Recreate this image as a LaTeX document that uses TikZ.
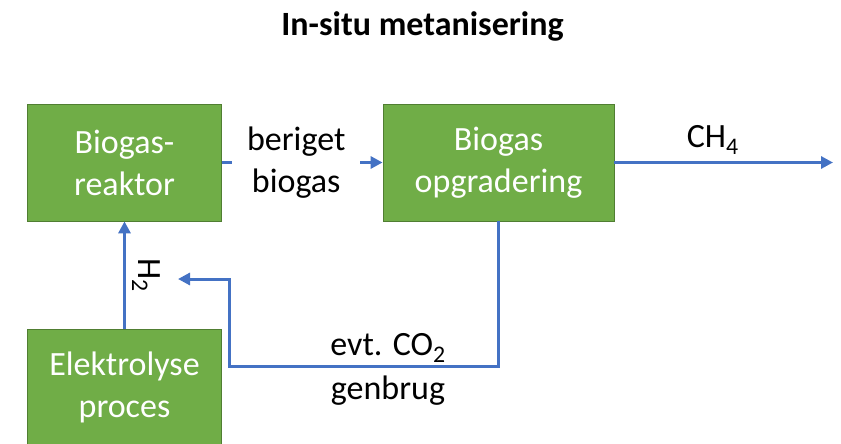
\documentclass[tikz,border=0pt]{standalone}
\usepackage{fontspec}
\setmainfont{Carlito}
\usepackage{xcolor}
\usepackage{tikz}
\usetikzlibrary{arrows.meta}

\definecolor{boxgreen}{HTML}{70AD47}
\definecolor{boxedge}{HTML}{507E32}
\definecolor{flowblue}{HTML}{4472C4}

\begin{document}
\begin{tikzpicture}[x=1pt, y=-1pt,
		font=\fontsize{34}{42}\selectfont,
		unit/.style={draw=boxedge, line width=0.8pt, fill=boxgreen, text=white,
			align=center, minimum width=194pt, minimum height=117pt, inner sep=0pt},
		flow/.style={draw=flowblue, line width=3pt, -{Triangle[length=12pt,width=12pt]}}]
		
		% --- 1. ramme og titel ---
		\useasboundingbox (0,0) rectangle (841,444);
		\node[font=\fontsize{34}{42}\selectfont\bfseries] (title) at (422.5, 26) {In-situ metanisering};
		
		% --- 2. procesbokse ---
		\node[unit] (reaktor) at (124.5, 162.5) {Biogas-\\reaktor};
		\node[unit, minimum width=231pt] (opgradering) at (498.5, 162.5) {Biogas\\opgradering};
		\node[unit] (elektrolyse) at (124.5, 387.5) {Elektrolyse\\proces};
		
		% frie endepunkter
		\coordinate (ch4end) at (833, 162.5);
		\coordinate (co2turn) at (229, 366);
		\coordinate (co2end) at (178, 279);
		
		% --- 3. strømme ---
		\draw[flow] (reaktor) -- (opgradering)
			node[pos=0.4625, fill=white, align=center, inner xsep=15pt, inner ysep=0pt, text=black] (beriget) {beriget\\biogas};
		\draw[flow] (opgradering) -- (ch4end)
			node[pos=0.45, above, inner sep=7pt] (ch4lbl) {CH\textsubscript{4}};
		\draw[flow] (elektrolyse) -- (reaktor)
			node[midway, anchor=south, rotate=-90, inner sep=6pt] (h2lbl) {H\textsubscript{2}};
		
		% CO2 tilbage
		\draw[flow] (opgradering.south) |- (co2turn)
			node[pos=0.705, above, inner sep=2pt] (co2lbl) {evt. CO\textsubscript{2}}
			node[pos=0.705, below, inner sep=8pt] (genbrug) {genbrug}
			|- (co2end);
		
	\end{tikzpicture}
\end{document}
